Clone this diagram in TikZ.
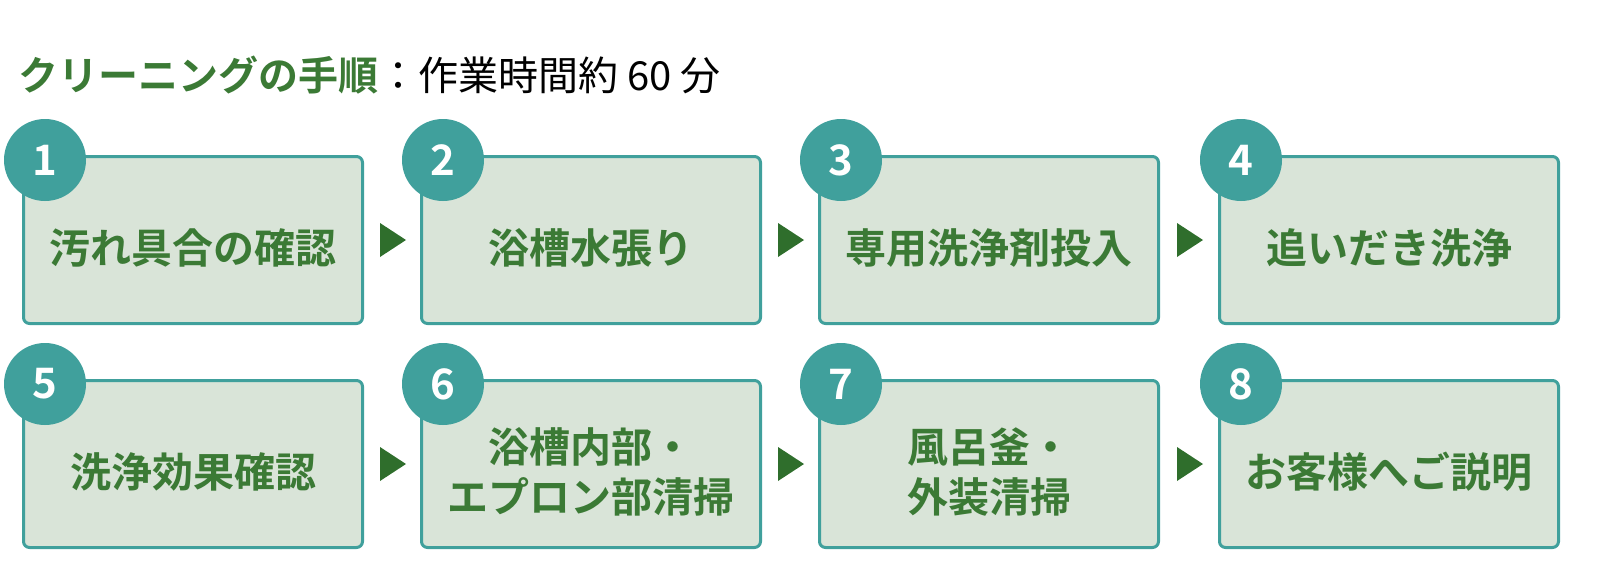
\documentclass[tikz,border=0pt]{standalone}
\usepackage{fontspec}
\usetikzlibrary{calc}
\newfontfamily\jp{Noto Sans CJK JP}
\newfontfamily\jpb{Noto Sans CJK JP Bold}
\definecolor{boxfill}{HTML}{D9E4D8}
\definecolor{teal}{HTML}{40A09C}
\definecolor{dgreen}{HTML}{3B7A35}
\definecolor{agreen}{HTML}{2F6E2C}
\tikzset{
 stepbox/.style={draw=teal,line width=3pt,fill=boxfill,rounded corners=6pt,minimum width=339pt,minimum height=167pt,anchor=north west,inner sep=0pt},
 steptext/.style={font=\jpb\fontsize{41}{50}\selectfont,text=dgreen,align=center},
 numc/.style={circle,fill=teal,minimum size=82pt,inner sep=0pt,text=white,font=\jpb\fontsize{42}{42}\selectfont},
 tri/.style={fill=agreen}
}
\begin{document}
\begin{tikzpicture}[x=1pt,y=-1pt]
\node[anchor=base west,inner sep=0pt] (title) at (18,90) {\fontsize{40}{40}\selectfont{\jpb\color{dgreen}クリーニングの手順}{\jp ：作業時間約 60 分}};
\def\xs{{22,420,818,1218}}
\foreach \t [count=\i] in {汚れ具合の確認,浴槽水張り,専用洗浄剤投入,追いだき洗浄,洗浄効果確認,浴槽内部・\\エプロン部清掃,風呂釜・\\外装清掃,お客様へご説明}{
 \pgfmathtruncatemacro\c{mod(\i-1,4)}
 \pgfmathtruncatemacro\r{(\i-1)/4}
 \pgfmathsetmacro\x{\xs[\c]}
 \pgfmathsetmacro\y{155+224*\r}
 \node[stepbox] (b\i) at (\x,\y) {};
 \node[steptext] (t\i) at ([yshift=-8pt]b\i.center) {\t};
 \node[numc] (n\i) at (\x+23,\y+5) {\i};
}
\foreach \a/\b in {1/2,2/3,3/4,5/6,6/7,7/8}{
 \coordinate (m\a) at ($(b\a.east)!0.5!(b\b.west)$);
 \fill[tri] ([xshift=-12pt,yshift=-17pt]m\a) -- ([xshift=14pt]m\a) -- ([xshift=-12pt,yshift=17pt]m\a) -- cycle;
}
\pgfresetboundingbox
\useasboundingbox (0,0) rectangle (1614,570);
\end{tikzpicture}
\end{document}
